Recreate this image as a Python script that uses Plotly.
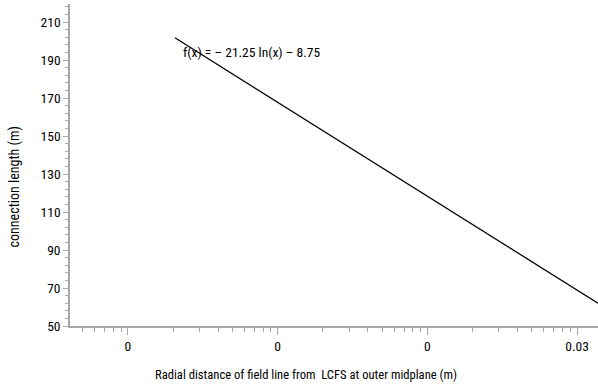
import plotly.graph_objects as go

# Data (fitted line endpoints)
x_vals = [2.06e-5, 0.0138]
y_vals = [201.7, 62.0]

x_tickvals = [1e-5, 1e-4, 1e-3, 1e-2]
x_ticktext = ["0", "0", "0", "0.03"]
y_tickvals = [50, 70, 90, 110, 130, 150, 170, 190, 210]

equation_text = "f(x) = \u2013 21.25 ln(x) \u2013 8.75"
x_title = "Radial distance of field line from  LCFS at outer midplane (m)"
y_title = "connection length (m)"

FONT = "Liberation Sans Narrow, Roboto Condensed, Liberation Sans, Arial"
AX = "#a6a6a6"

fig = go.Figure()
fig.add_trace(go.Scatter(x=x_vals, y=y_vals, mode="lines",
                         line=dict(color="black", width=1.3),
                         showlegend=False, hoverinfo="skip"))

fig.add_annotation(x=-4.645, y=194.0, xref="x", yref="y", text=equation_text,
                   showarrow=False, xanchor="left", yanchor="middle",
                   font=dict(family=FONT, size=13.5, color="black"))

# axis titles placed as in the reference
fig.add_annotation(x=0.447, y=-0.152, xref="paper", yref="paper", text=x_title,
                   showarrow=False, xanchor="center", yanchor="middle",
                   font=dict(family=FONT, size=12.6, color="black"))
fig.add_annotation(x=-0.105, y=0.432, xref="paper", yref="paper", text=y_title,
                   showarrow=False, xanchor="center", yanchor="middle", textangle=-90,
                   font=dict(family=FONT, size=14.0, color="black"))

fig.update_layout(
    width=598, height=392,
    margin=dict(l=70, r=0, t=4, b=66),
    paper_bgcolor="white", plot_bgcolor="white",
    font=dict(family=FONT, size=13, color="black"),
    xaxis=dict(
        type="log", range=[-5.387, -1.86], automargin=False,
        tickmode="array", tickvals=x_tickvals, ticktext=x_ticktext,
        ticks="outside", ticklen=7, tickcolor=AX, tickwidth=1,
        showline=True, linecolor=AX, linewidth=1.5,
        showgrid=False, zeroline=False,
        minor=dict(ticks="outside", dtick="D1", ticklen=4, tickcolor=AX, showgrid=False),
        tickfont=dict(size=13.5),
    ),
    yaxis=dict(
        range=[50, 219.5], automargin=False,
        tickmode="array", tickvals=y_tickvals,
        ticks="outside", ticklen=5, tickcolor=AX, tickwidth=1,
        showline=True, linecolor=AX, linewidth=1.5,
        showgrid=False, zeroline=False,
        minor=dict(ticks="outside", dtick=4, tick0=50, ticklen=3, tickcolor=AX, showgrid=False),
        tickfont=dict(size=13.5),
    ),
)

fig.write_html("out.html", config={"displayModeBar": False},
               post_script="document.body.style.margin='0';document.body.style.overflow='hidden';")
